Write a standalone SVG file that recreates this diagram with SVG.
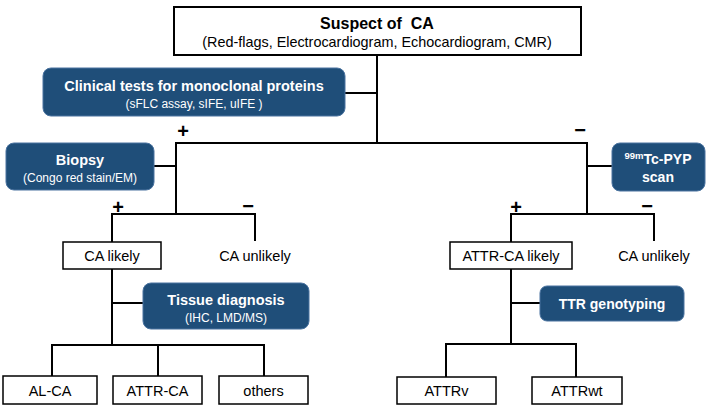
<svg xmlns="http://www.w3.org/2000/svg" width="709" height="407" viewBox="0 0 709 407">
<style>
text{font-family:"Liberation Sans",Arial,sans-serif;text-anchor:middle;}
.box{fill:#fff;stroke:#000;stroke-width:1.5;}
.top{fill:#fff;stroke:#000;stroke-width:2;}
.blue{fill:#1f4e79;stroke:#4a73a0;stroke-width:1;}
.wt{fill:#fff;font-weight:bold;font-size:14.5px;}
.ws{fill:#fff;font-size:12px;}
.lbl{fill:#000;font-size:14.5px;}
.sign{fill:#000;font-weight:bold;font-size:20px;}
.conn line{stroke:#000;stroke-width:2;}
</style>
<rect width="709" height="407" fill="#fff"/>
<g id="connectors" class="conn">
<line x1="377" y1="55" x2="377" y2="144"/>
<line x1="345" y1="93" x2="377" y2="93"/>
<line x1="175" y1="143" x2="588" y2="143"/>
<line x1="176" y1="142" x2="176" y2="215"/>
<line x1="154" y1="166" x2="176" y2="166"/>
<line x1="111" y1="214" x2="256" y2="214"/>
<line x1="112" y1="213" x2="112" y2="242"/>
<line x1="255" y1="213" x2="255" y2="241"/>
<line x1="587" y1="142" x2="587" y2="215"/>
<line x1="587" y1="166" x2="612" y2="166"/>
<line x1="510" y1="214" x2="655" y2="214"/>
<line x1="511" y1="213" x2="511" y2="242"/>
<line x1="654" y1="213" x2="654" y2="241"/>
<line x1="112" y1="269" x2="112" y2="346"/>
<line x1="112" y1="303" x2="143" y2="303"/>
<line x1="51" y1="345" x2="265" y2="345"/>
<line x1="52" y1="344" x2="52" y2="376"/>
<line x1="158" y1="344" x2="158" y2="376"/>
<line x1="264" y1="344" x2="264" y2="376"/>
<line x1="511" y1="269" x2="511" y2="345"/>
<line x1="511" y1="303" x2="540" y2="303"/>
<line x1="445" y1="344" x2="577" y2="344"/>
<line x1="446" y1="343" x2="446" y2="377"/>
<line x1="576" y1="343" x2="576" y2="377"/>
</g>
<g id="signs">
<text class="sign" x="183" y="138">+</text>
<text class="sign" x="580" y="137">−</text>
<text class="sign" x="118" y="214">+</text>
<text class="sign" x="248" y="213">−</text>
<text class="sign" x="516" y="214">+</text>
<text class="sign" x="647" y="213">−</text>
</g>
<g id="suspect">
<rect class="top" x="174" y="7" width="407" height="48"/>
<text x="377" y="29" style="font-weight:bold;font-size:16px;white-space:pre;">Suspect of  CA</text>
<text x="377" y="47" style="font-size:14.4px;">(Red-flags, Electrocardiogram, Echocardiogram, CMR)</text>
</g>
<g id="clinical">
<rect class="blue" x="43" y="68" width="302" height="48" rx="8"/>
<text class="wt" x="194" y="91">Clinical tests for monoclonal proteins</text>
<text class="ws" x="194" y="108">(sFLC assay, sIFE, uIFE )</text>
</g>
<g id="biopsy">
<rect class="blue" x="6" y="143" width="148" height="47" rx="8"/>
<text class="wt" x="80" y="165">Biopsy</text>
<text class="ws" x="80" y="182">(Congo red stain/EM)</text>
</g>
<g id="pyp">
<rect class="blue" x="612" y="143" width="93" height="48" rx="8"/>
<text class="wt" x="658" y="164" style="font-size:14px;"><tspan style="font-size:9.5px;" dy="-5">99m</tspan><tspan dy="5">Tc-PYP</tspan></text>
<text class="wt" x="658" y="182" style="font-size:14px;">scan</text>
</g>
<g id="ca-likely">
<rect class="box" x="63" y="242" width="98" height="27"/>
<text class="lbl" x="112" y="261">CA likely</text>
</g>
<g id="ca-unlikely-left">
<text class="lbl" x="255" y="261">CA unlikely</text>
</g>
<g id="attr-likely">
<rect class="box" x="450" y="242" width="122" height="27"/>
<text class="lbl" x="511" y="261">ATTR-CA likely</text>
</g>
<g id="ca-unlikely-right">
<text class="lbl" x="654" y="261">CA unlikely</text>
</g>
<g id="tissue">
<rect class="blue" x="143" y="283" width="166" height="46" rx="8"/>
<text class="wt" x="226" y="305">Tissue diagnosis</text>
<text class="ws" x="226" y="322">(IHC, LMD/MS)</text>
</g>
<g id="ttr">
<rect class="blue" x="540" y="286" width="144" height="35" rx="7"/>
<text class="wt" x="612" y="309" style="font-size:14px;">TTR genotyping</text>
</g>
<g id="al-ca">
<rect class="box" x="3" y="376" width="94" height="28"/>
<text class="lbl" x="50" y="396">AL-CA</text>
</g>
<g id="attr-ca">
<rect class="box" x="113" y="376" width="89" height="28"/>
<text class="lbl" x="157.5" y="396">ATTR-CA</text>
</g>
<g id="others">
<rect class="box" x="219" y="376" width="89" height="28"/>
<text class="lbl" x="263.5" y="396">others</text>
</g>
<g id="attrv">
<rect class="box" x="397" y="377" width="99" height="27"/>
<text class="lbl" x="446.5" y="396">ATTRv</text>
</g>
<g id="attrwt">
<rect class="box" x="532" y="377" width="90" height="27"/>
<text class="lbl" x="577" y="396">ATTRwt</text>
</g>
</svg>
